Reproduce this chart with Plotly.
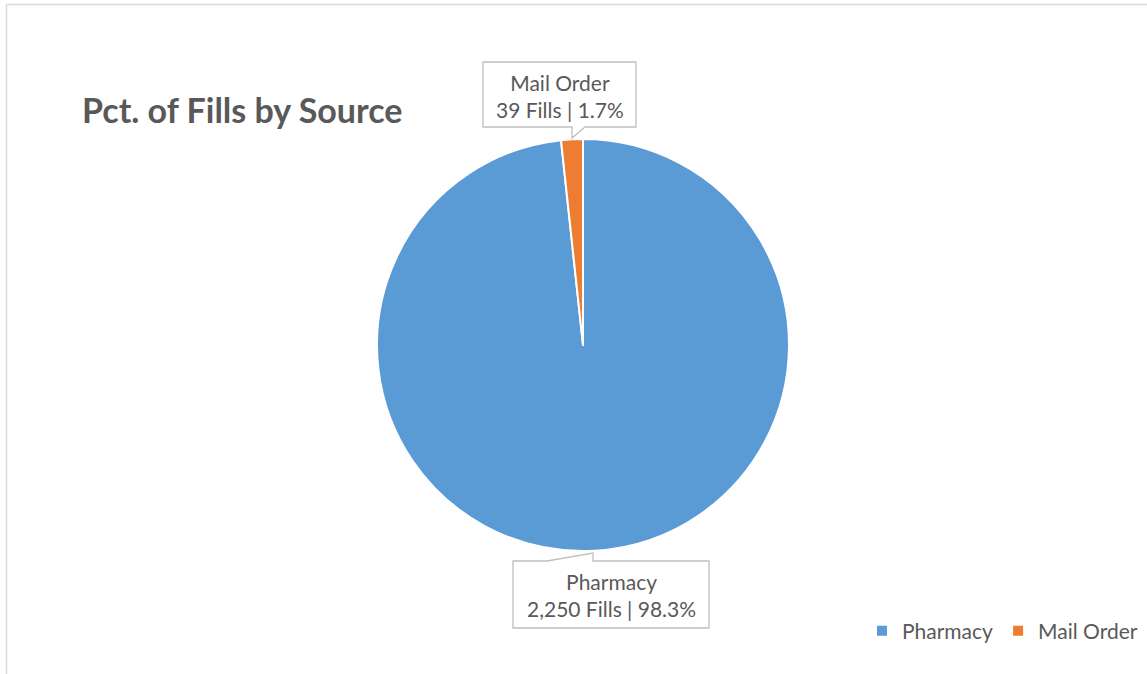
import plotly.graph_objects as go

W, H = 1147, 674

categories = ["Pharmacy", "Mail Order"]
fills = [2250, 39]
pct_labels = ["98.3%", "1.7%"]
colors = ["#5B9BD5", "#ED7D31"]

def px(x):
    return x / W

def py(y):
    return 1 - y / H

cx, cy, r = 583, 345, 206

fig = go.Figure(go.Pie(
    labels=categories,
    values=fills,
    sort=False,
    direction="clockwise",
    rotation=0,
    textinfo="none",
    hoverinfo="label+value+percent",
    marker=dict(colors=colors, line=dict(color="white", width=2)),
    domain=dict(x=[px(cx - r), px(cx + r)], y=[py(cy + r), py(cy - r)]),
    showlegend=True,
))

text_color = "#595959"
font_family = "Lato, 'Open Sans', sans-serif"

def path(points):
    return "M " + " L ".join(f"{px(x)},{py(y)}" for x, y in points) + " Z"

mail_box = [(483, 62), (636, 62), (636, 127), (585, 127), (572, 138), (572, 127), (483, 127)]
pharm_box = [(513, 561), (547, 561), (593, 553), (593, 561), (709, 561), (709, 628), (513, 628)]

shapes = []
for pts in (mail_box, pharm_box):
    shapes.append(dict(type="path", xref="paper", yref="paper", path=path(pts),
                       line=dict(color="#BFBFBF", width=1.3), fillcolor="white", layer="above"))

# frame lines
shapes.append(dict(type="line", xref="paper", yref="paper", x0=px(6.5), x1=px(6.5), y0=0, y1=py(4.5),
                   line=dict(color="#D9D9D9", width=1.5)))
shapes.append(dict(type="line", xref="paper", yref="paper", x0=px(6.5), x1=1, y0=py(4.5), y1=py(4.5),
                   line=dict(color="#D9D9D9", width=1.5)))

def fmt_label(i):
    return f"{categories[i]}<br>{fills[i]:,} Fills | {pct_labels[i]}"

label_font = dict(family=font_family, size=21, color=text_color)
annotations = [
    dict(text=fmt_label(1), x=px(559.5), y=py(96), xref="paper", yref="paper", showarrow=False,
         xanchor="center", yanchor="middle", font=label_font, align="center"),
    dict(text=fmt_label(0), x=px(611), y=py(595), xref="paper", yref="paper", showarrow=False,
         xanchor="center", yanchor="middle", font=label_font, align="center"),
    dict(text="<b>Pct. of Fills by Source</b>", x=px(80), y=py(110), xref="paper", yref="paper",
         xanchor="left", yanchor="middle", showarrow=False,
         font=dict(family=font_family, size=34, color=text_color)),
]

fig.update_layout(
    width=W, height=H,
    margin=dict(l=0, r=0, t=0, b=0),
    paper_bgcolor="white",
    plot_bgcolor="white",
    shapes=shapes,
    annotations=annotations,
    legend=dict(orientation="h", x=px(1143), xanchor="right", y=py(631), yanchor="middle",
                font=dict(family=font_family, size=21, color=text_color),
                bgcolor="rgba(0,0,0,0)"),
)

fig.write_html("out.html", config={"displayModeBar": False},
               post_script="document.body.style.margin='0';document.body.style.overflow='hidden';")
